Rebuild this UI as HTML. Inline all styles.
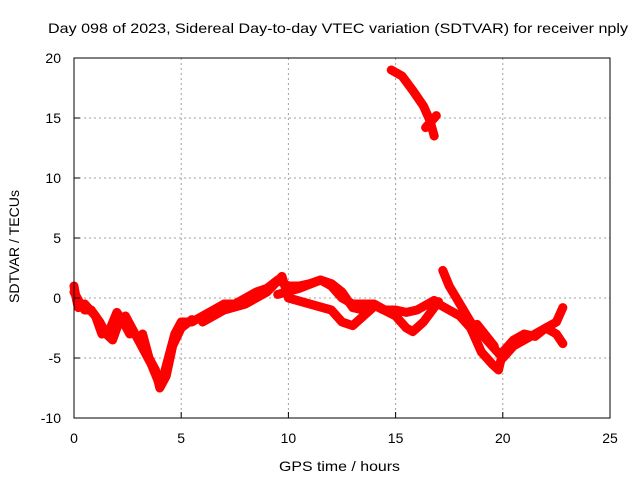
<!DOCTYPE html>
<html><head><meta charset="utf-8"><style>
body{margin:0;background:#fff;}
svg text{font-family:"Liberation Sans",sans-serif;font-size:14px;fill:#000;}
</style></head><body>
<svg width="640" height="480" xmlns="http://www.w3.org/2000/svg">
<g id="grid"></g>
<g id="series"></g>
<rect x="74" y="58" width="536" height="360" fill="none" stroke="#000" stroke-width="1"/>
<g id="ticks"></g>
<text x="48" y="33" textLength="580" lengthAdjust="spacingAndGlyphs">Day 098 of 2023, Sidereal Day-to-day VTEC variation (SDTVAR) for receiver nply</text>
<text x="279" y="471" textLength="121" lengthAdjust="spacingAndGlyphs">GPS time / hours</text>
<text transform="translate(19,303) rotate(-90)" textLength="113" lengthAdjust="spacingAndGlyphs">SDTVAR / TECUs</text>
</svg>
<script>
const xTicks=[0,5,10,15,20,25];
const yTicks=[-10,-5,0,5,10,15,20];
const trackMain=[[0,0.5],[0.3,-0.5],[0.5,-1],[0.8,-1],[1.2,-2],[1.5,-3],[1.8,-3.5],[2.1,-2],[2.4,-1.5],[2.7,-2.5],[3.0,-3.5],[3.3,-4.5],[3.6,-5.5],[3.9,-6.8],[4.1,-7],[4.4,-5],[4.7,-3],[5,-2],[5.5,-2],[6,-1.5],[6.5,-1],[7,-0.5],[7.5,-0.5],[8,0],[8.5,0.5],[9,0.8],[9.5,1.5],[10,1],[10.5,1],[11,1.2],[11.5,1.5],[12,1],[12.5,0],[13,-0.5],[13.5,-0.5],[14,-0.5],[14.5,-1],[15,-1],[15.5,-1.2],[16,-1],[16.5,-0.5],[16.8,-0.2]];
const trackStart=[[0,1],[0.1,0],[0.2,-0.8],[0.5,-0.5],[1,-1.5],[1.3,-3],[1.7,-2.5],[2,-1.2],[2.3,-2],[2.6,-3]];
const trackDip=[[3.2,-3],[3.5,-5],[3.8,-6],[4.0,-7.5],[4.3,-6.5],[4.6,-4],[5,-2.5],[5.5,-1.8]];
const trackMid=[[6,-2],[7,-1],[8,-0.5],[9,0.5],[9.7,1.8],[10,0],[11,-0.5],[12,-1],[12.5,-2],[13,-2.3],[13.5,-1.5],[14,-0.7]];
const trackUpper=[[9.5,0.3],[10.5,0.8],[11.5,1.5],[12,1.2],[12.5,0.5],[13,-0.8],[13.5,-1]];
const trackD=[[14,-0.6],[15,-1.5],[15.5,-2.5],[15.8,-2.8],[16.3,-2],[16.8,-0.8],[17,-0.3]];
const trackE=[[17.2,2.3],[17.5,1],[18,-0.5],[18.5,-2],[19,-3],[19.5,-4],[20,-5],[20.5,-4],[21,-3.5],[21.5,-3],[22,-2.5],[22.5,-2],[22.8,-0.8]];
const trackF=[[17,-0.5],[17.5,-1],[18,-1.5],[18.5,-2.5],[19,-4.5],[19.5,-5.5],[19.8,-6],[20,-4.5],[20.5,-3.5],[21,-3],[21.5,-3.2],[22,-2.5],[22.5,-3],[22.8,-3.8]];
const trackG=[[18.8,-2.2],[19.6,-4]];
const trackTop=[[14.8,19],[15.3,18.5],[15.8,17.3],[16.3,16],[16.6,14.8],[16.8,13.5]];
const trackCross=[[16.4,14.2],[16.9,15.2]];
const tracks=[trackMain,trackStart,trackDip,trackMid,trackUpper,trackD,trackE,trackF,trackG,trackTop,trackCross];
const NS="http://www.w3.org/2000/svg";
const X=v=>74+(v-0)*536/25;
const Y=v=>418-(v+10)*360/30;
const grid=document.getElementById('grid'),ticks=document.getElementById('ticks'),ser=document.getElementById('series');
function mk(t,a,p){const e=document.createElementNS(NS,t);for(const k in a)e.setAttribute(k,a[k]);p.appendChild(e);return e;}
xTicks.forEach(v=>{
  if(v>0&&v<25){const g=mk('line',{x1:X(v),x2:X(v),y1:58,y2:418,stroke:'#a0a0a0','stroke-dasharray':'2,3'},grid);
  
  }
  const t=mk('line',{x1:X(v),x2:X(v),y1:418,y2:412,stroke:'#000'},ticks);
  
  
  const l=mk('text',{x:X(v),y:443,'text-anchor':'middle'},ticks);l.textContent=v;
  
  
});
yTicks.forEach(v=>{
  if(v>-10&&v<20){const g=mk('line',{x1:74,x2:610,y1:Y(v),y2:Y(v),stroke:'#a0a0a0','stroke-dasharray':'2,3'},grid);
  
  }
  const t=mk('line',{x1:74,x2:80,y1:Y(v),y2:Y(v),stroke:'#000'},ticks);
  
  
  const l=mk('text',{x:61,y:Y(v)+5,'text-anchor':'end'},ticks);l.textContent=v;
  
  
});
tracks.forEach(tr=>{
  const p=mk('polyline',{points:tr.map(d=>X(d[0])+','+Y(d[1])).join(' '),fill:'none',stroke:'#ff0000','stroke-width':9,'stroke-linejoin':'round','stroke-linecap':'round'},ser);
  
  
});
</script>
</body></html>
